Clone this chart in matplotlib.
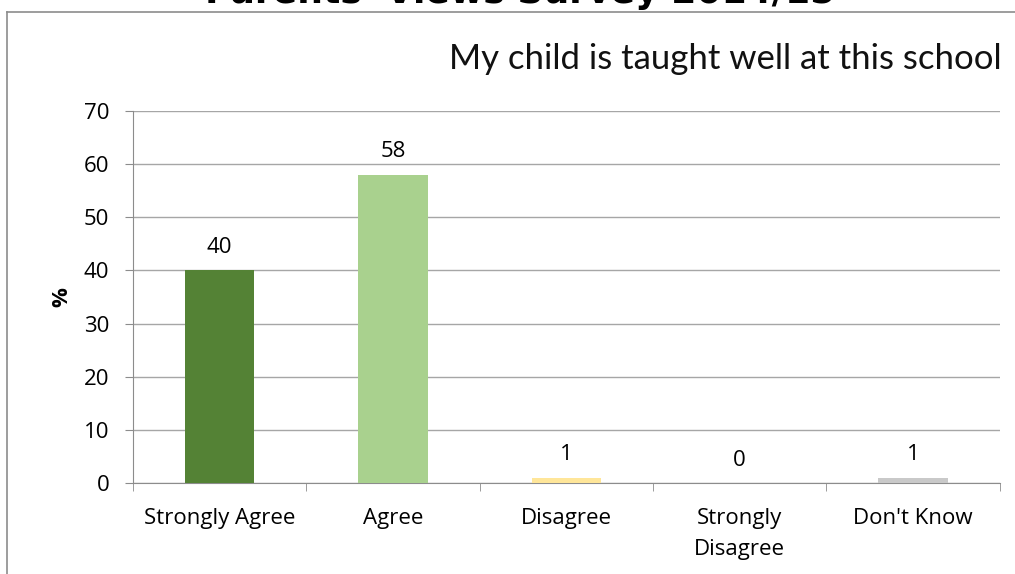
import matplotlib.pyplot as plt
import numpy as np
from matplotlib.lines import Line2D

categories = ["Strongly Agree", "Agree", "Disagree", "Strongly\nDisagree", "Don't Know"]
values = [40, 58, 1, 0, 1]
colours = ["#548235", "#A9D18E", "#FFE699", "#F4B183", "#C9C9C9"]
yticks = [0, 10, 20, 30, 40, 50, 60, 70]

plt.rcParams['font.family'] = ['Open Sans', 'DejaVu Sans']

fig = plt.figure(figsize=(10.15, 5.74), dpi=100)
ax = fig.add_axes([0.131, 0.1585, 0.854, 0.648])

x = np.arange(len(categories))
bars = ax.bar(x, values, width=0.40, color=colours, zorder=3)

for xi, v in zip(x, values):
    ax.annotate(str(v), (xi, v), xytext=(0, 9), textcoords="offset points",
                ha="center", va="bottom", fontsize=16, color="#000000")

ax.set_xlim(-0.5, len(categories) - 0.5)
ax.set_ylim(0, 70)
ax.set_yticks(yticks)
ax.set_yticklabels([str(t) for t in yticks], fontsize=16)
ax.set_xticks(x)
ax.set_xticklabels(categories, fontsize=16, linespacing=1.6)
ax.set_xticks(np.arange(len(categories) + 1) - 0.5, minor=True)
ax.tick_params(axis="x", which="major", length=0, pad=18)
ax.tick_params(axis="x", which="minor", length=6, color="#8c8c8c")
ax.tick_params(axis="y", length=6, color="#8c8c8c", pad=11)

ax.grid(axis="y", color="#a6a6a6", linewidth=1, zorder=0)
for s in ["top", "right"]:
    ax.spines[s].set_visible(False)
ax.spines["left"].set_color("#8c8c8c")
ax.spines["bottom"].set_color("#8c8c8c")

ax.set_ylabel("%", fontsize=16, fontweight="bold", labelpad=8)

# outer frame of the chart (left and top edges)
fig.add_artist(Line2D([0.007, 0.007], [0.0, 0.979], color="#8c8c8c", linewidth=1.2, transform=fig.transFigure))
fig.add_artist(Line2D([0.007, 1.0], [0.979, 0.979], color="#8c8c8c", linewidth=1.2, transform=fig.transFigure))

fig.text(0.512, 1.012, "Parents' Views Survey 2014/15", ha="center", va="center",
         fontsize=26, fontweight="bold", family=["DejaVu Sans"])
fig.text(0.987, 0.898, "My child is taught well at this school", ha="right", va="center",
         fontsize=25, fontweight="normal", color="#111111", family=["Lato", "DejaVu Sans"])

fig.savefig("out.png", dpi=100)
